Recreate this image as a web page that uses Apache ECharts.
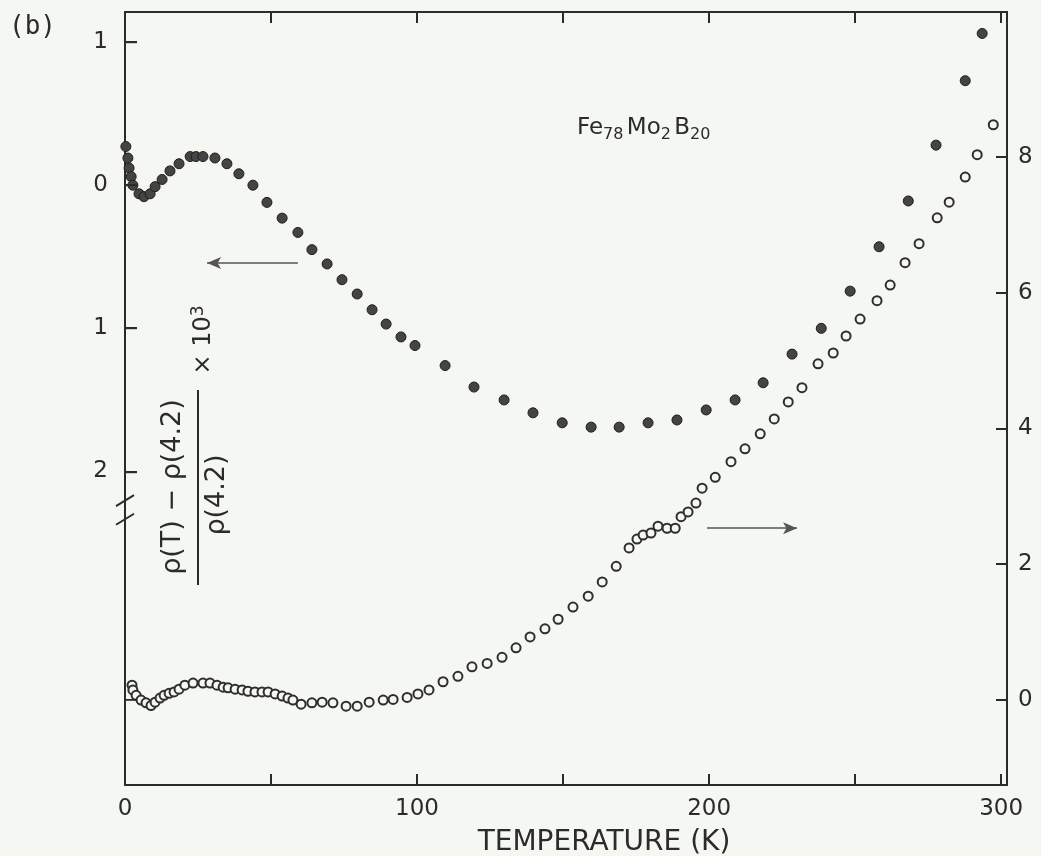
<!DOCTYPE html>
<html>
<head>
<meta charset="utf-8">
<script src="https://cdn.jsdelivr.net/npm/echarts@6/dist/echarts.min.js"></script>
<style>
html,body{margin:0;padding:0;background:#f5f7f2;}
#chart{width:1041px;height:856px;}
</style>
</head>
<body>
<div id="chart"></div>
<script>
// Filled circles (left axis, Δρ/ρ × 10^3)
var filledT = [0.3,1.0,1.4,2.1,2.7,4.8,6.5,8.6,10.3,12.7,15.4,18.5,22.3,24.3,26.7,30.8,34.9,39.0,43.8,48.6,53.8,59.2,64.0,69.2,74.3,79.5,84.6,89.4,94.5,99.3,109.6,119.5,129.8,139.7,149.7,159.6,169.2,179.1,189.0,199.0,208.9,218.5,228.4,238.4,248.3,258.2,268.2,277.7,287.7,293.5];
var filledV = [0.27,0.19,0.12,0.06,0.00,-0.06,-0.08,-0.06,-0.01,0.04,0.10,0.15,0.20,0.20,0.20,0.19,0.15,0.08,0.00,-0.12,-0.23,-0.33,-0.45,-0.55,-0.66,-0.76,-0.87,-0.97,-1.06,-1.12,-1.26,-1.41,-1.50,-1.59,-1.66,-1.69,-1.69,-1.66,-1.64,-1.57,-1.50,-1.38,-1.18,-1.00,-0.74,-0.43,-0.11,0.28,0.73,1.06];
// Open circles (right axis)
var openT = [2.4,2.7,3.8,5.5,7.2,8.9,10.3,12.0,13.4,15.1,16.8,18.5,20.5,23.3,26.7,29.1,31.5,33.6,35.3,37.7,40.1,42.1,44.5,46.9,49.0,51.4,53.8,55.8,57.5,60.3,64.0,67.5,71.2,75.7,79.5,83.6,88.4,91.8,96.6,100.3,104.1,108.9,114.0,118.8,124.0,129.1,133.9,138.7,143.8,148.3,153.4,158.6,163.4,168.2,172.6,175.3,177.4,180.1,182.5,185.6,188.4,190.4,192.8,195.5,197.6,202.1,207.5,212.3,217.5,222.3,227.1,231.8,237.3,242.5,246.9,251.7,257.5,262.0,267.1,271.9,278.1,282.2,287.7,291.8,297.3];
var openV = [0.22,0.15,0.07,0.00,-0.04,-0.08,-0.03,0.03,0.07,0.10,0.12,0.16,0.22,0.25,0.25,0.25,0.22,0.19,0.18,0.16,0.15,0.13,0.12,0.12,0.12,0.09,0.06,0.03,0.00,-0.06,-0.04,-0.03,-0.04,-0.09,-0.09,-0.03,0.00,0.01,0.04,0.09,0.15,0.27,0.35,0.49,0.54,0.63,0.77,0.93,1.05,1.19,1.37,1.53,1.74,1.97,2.24,2.37,2.43,2.46,2.56,2.53,2.53,2.70,2.77,2.90,3.12,3.28,3.51,3.70,3.92,4.14,4.39,4.60,4.95,5.11,5.36,5.61,5.88,6.11,6.44,6.72,7.10,7.33,7.70,8.03,8.47];
// Tick values / labels
var xTickValues = [0,50,100,150,200,250,300];
var xLabelValues = [0,100,200,300];
var leftTickValues = [-2,-1,0,1];
var rightTickValues = [0,2,4,6,8];
// Annotation arrows (data space)
var leftArrow = {from:[59.2,-0.544], to:[28.1,-0.544]};
var rightArrow = {from:[199.3,2.53], to:[230.1,2.53]};

var INK = '#2b2b2b';
var BG = '#f5f7f2';
var FONT = 'DejaVu Sans';

var chart = echarts.init(document.getElementById('chart'), null, {renderer:'canvas'});

function zip(a,b){ return a.map(function(v,i){ return [v,b[i]]; }); }

var axisLineStyle = {color: INK, width: 2};

var option = {
  backgroundColor: BG,
  animation: false,
  grid: {left:125, right:34, top:12, bottom:71, containLabel:false, outerBoundsMode:'none'},
  xAxis: [{
    type:'value', min:0, max:302, position:'bottom',
    axisLine:{show:true, onZero:false, lineStyle:axisLineStyle},
    axisTick:{show:true, inside:true, length:11, lineStyle:{color:INK, width:2}, customValues:xTickValues},
    axisLabel:{show:true, customValues:xLabelValues, margin:13, fontFamily:FONT, fontSize:23, color:INK},
    splitLine:{show:false},
    name:'TEMPERATURE (K)', nameLocation:'middle', nameGap:44,
    nameTextStyle:{fontFamily:FONT, fontSize:28, color:INK, padding:[0,0,0,76]}
  },{
    type:'value', min:0, max:302, position:'top',
    axisLine:{show:true, onZero:false, lineStyle:axisLineStyle},
    axisTick:{show:true, inside:true, length:11, lineStyle:{color:INK, width:2}, customValues:xTickValues},
    axisLabel:{show:false},
    splitLine:{show:false}
  }],
  yAxis: [{
    type:'value', min:-4.19, max:1.21, position:'left',
    axisLine:{show:true, onZero:false, lineStyle:axisLineStyle},
    axisTick:{show:false},
    axisLabel:{show:true, customValues:leftTickValues, margin:17, fontFamily:FONT, fontSize:23, color:INK,
      formatter:function(v){ return String(Math.abs(v)); }},
    splitLine:{show:false}
  },{
    type:'value', min:-1.25, max:10.13, position:'right',
    axisLine:{show:true, onZero:false, lineStyle:axisLineStyle},
    axisTick:{show:true, inside:true, length:11, lineStyle:{color:INK, width:2}, customValues:rightTickValues},
    axisLabel:{show:true, customValues:rightTickValues, margin:11, fontFamily:FONT, fontSize:23, color:INK},
    splitLine:{show:false}
  }],
  series: [{
    name:'filled', type:'scatter', xAxisIndex:0, yAxisIndex:0,
    data: zip(filledT, filledV),
    symbol:'circle', symbolSize:10,
    itemStyle:{color:'#444', borderColor:'#1e1e1e', borderWidth:1, opacity:1},
    markLine:{
      silent:true, animation:false, symbol:['none','arrow'], symbolSize:[9,14],
      label:{show:false},
      lineStyle:{color:'#555', width:1.5, type:'solid'},
      data:[[{coord:leftArrow.from},{coord:leftArrow.to}]]
    }
  },{
    name:'open', type:'scatter', xAxisIndex:0, yAxisIndex:1,
    data: zip(openT, openV),
    symbol:'circle', symbolSize:9,
    itemStyle:{color:BG, borderColor:'#2e2e2e', borderWidth:2, opacity:1},
    markLine:{
      silent:true, animation:false, symbol:['none','arrow'], symbolSize:[9,14],
      label:{show:false},
      lineStyle:{color:'#555', width:1.5, type:'solid'},
      data:[[{coord:rightArrow.from},{coord:rightArrow.to}]]
    }
  }]
};
chart.setOption(option);

// Decorations positioned through the axes' scales
var axX = chart.convertToPixel({xAxisIndex:0}, 0);
var yb1 = chart.convertToPixel({yAxisIndex:0}, -2.2);
var yb2 = chart.convertToPixel({yAxisIndex:0}, -2.33);
var TICK = 12;

var gfx = [];
leftTickValues.forEach(function(v){
  var py = Math.round(chart.convertToPixel({yAxisIndex:0}, v));
  gfx.push({type:'rect', z:100, shape:{x:axX, y:py-1, width:TICK, height:2.2}, style:{fill:INK}});
});
// small zero marker for the right-axis data on the left spine
var pz = Math.round(chart.convertToPixel({yAxisIndex:1}, 0));
gfx.push({type:'rect', z:100, shape:{x:axX, y:pz-1, width:TICK, height:1.8}, style:{fill:INK}});

gfx = gfx.concat([
  {type:'line', shape:{x1:axX-9, y1:yb1+6, x2:axX+9, y2:yb1-5}, style:{stroke:INK, lineWidth:2}},
  {type:'line', shape:{x1:axX-9, y1:yb2+6, x2:axX+9, y2:yb2-5}, style:{stroke:INK, lineWidth:2}},
  {type:'text', left:9, top:14, style:{text:'(b)', font:'26px "DejaVu Sans Mono"', fill:INK}},
  {type:'text', x:577, y:128,
    style:{
      text:'{a|Fe}{s|78} {a|Mo}{s|2} {a|B}{s|20}',
      textAlign:'left', textVerticalAlign:'middle', fill:INK,
      rich:{
        a:{fontFamily:FONT, fontSize:23, lineHeight:30, verticalAlign:'middle', fill:INK},
        s:{fontFamily:FONT, fontSize:16, lineHeight:14, verticalAlign:'bottom', fill:INK}
      }
    }},
  {type:'group', x:197, y:487, rotation:Math.PI/2, children:[
    {type:'text', x:0, y:-24, style:{text:'ρ(T) − ρ(4.2)', fontFamily:FONT, fontSize:27, fill:INK, textAlign:'center', textVerticalAlign:'middle'}},
    {type:'line', shape:{x1:-98, y1:1, x2:97, y2:1}, style:{stroke:INK, lineWidth:2}},
    {type:'text', x:-8, y:20, style:{text:'ρ(4.2)', fontFamily:FONT, fontSize:27, fill:INK, textAlign:'center', textVerticalAlign:'middle'}},
    {type:'text', x:147, y:7, style:{
      text:'{n|× 10}{p|3}', textAlign:'center', textVerticalAlign:'middle', fill:INK,
      rich:{
        n:{fontFamily:FONT, fontSize:24, lineHeight:28, verticalAlign:'middle', fill:INK},
        p:{fontFamily:FONT, fontSize:17, lineHeight:12, verticalAlign:'top', fill:INK}
      }
    }}
  ]}
]);

chart.setOption({graphic: gfx});
</script>
</body>
</html>
